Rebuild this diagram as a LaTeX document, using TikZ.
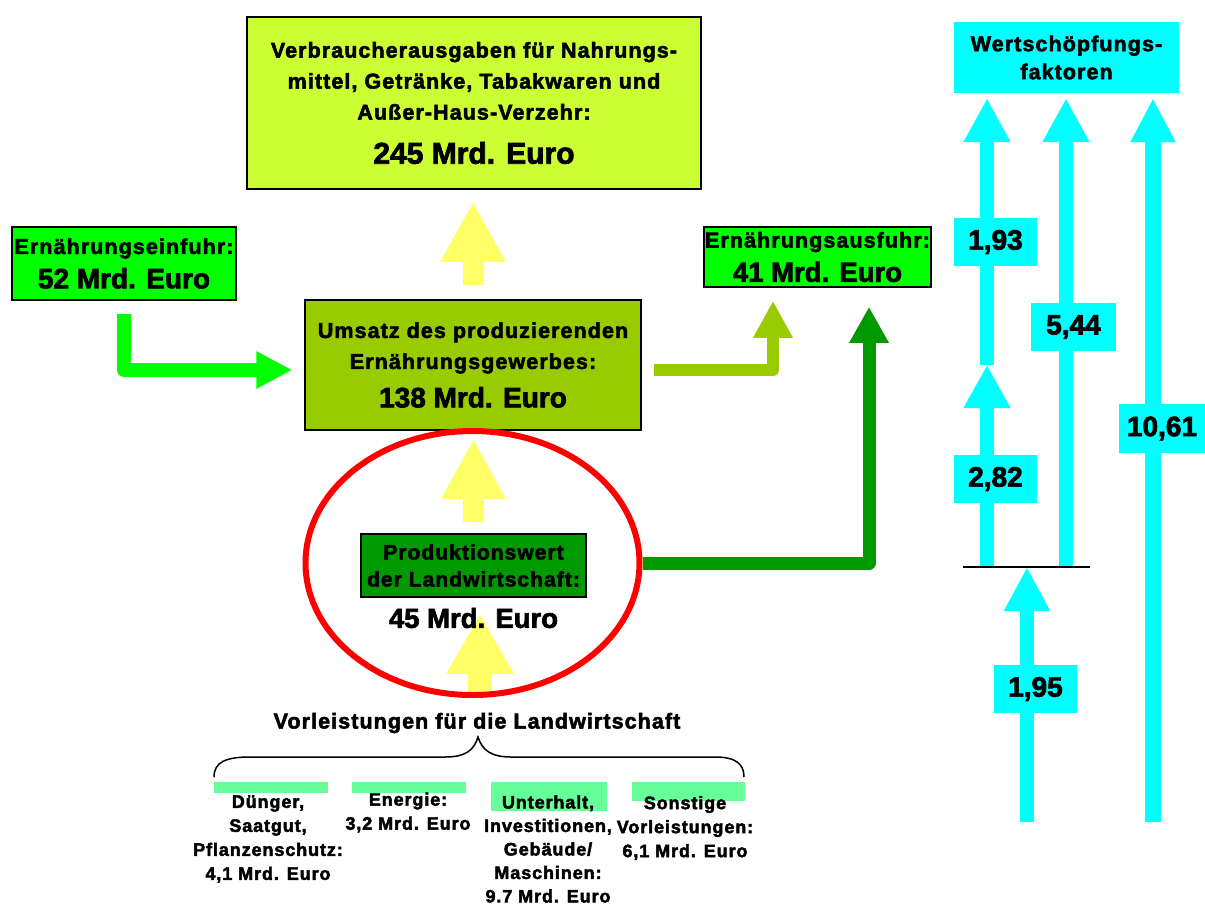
\documentclass[tikz,border=0pt]{standalone}
\usepackage{fontspec}
\setmainfont{Liberation Sans}[LetterSpace=5, BoldFeatures={FakeBold=2.5}]
\newfontfamily\numfont{Liberation Sans}[BoldFeatures={FakeBold=2.5}]
\usetikzlibrary{arrows.meta,shapes.geometric,calc}
\pgfdeclarelayer{bg}
\pgfsetlayers{bg,main}
\definecolor{consc}{HTML}{CCFF33}
\definecolor{umsc}{HTML}{99CC00}
\definecolor{tradec}{HTML}{00FF00}
\definecolor{prodc}{HTML}{009900}
\definecolor{yelc}{HTML}{FFFF66}
\definecolor{cyanc}{HTML}{00FFFF}
\definecolor{barc}{HTML}{66FF99}
\tikzset{
  box/.style={draw=black, line width=1.5pt, inner sep=0pt, align=center},
  body/.style={font=\fontsize{21.5}{31}\selectfont\bfseries},
  small/.style={font=\fontsize{18}{24}\selectfont\bfseries, align=center, inner sep=0pt},
  cbox/.style={fill=cyanc, inner sep=0pt, align=center, font=\numfont\fontsize{28}{30}\selectfont\bfseries},
  bar/.style={fill=barc, inner sep=0pt},
  fat/.style n args={3}{line width=#1, -{Triangle[width=#2,length=#3]}},
}
\begin{document}
\begin{tikzpicture}[x=1pt,y=-1pt]
\useasboundingbox (0,0) rectangle (1205,906);
% boxes
\node[box, body, fill=consc, minimum width=454pt, minimum height=172pt] (cons) at (474,103)
  {Verbraucherausgaben für Nahrungs-\\mittel, Getränke, Tabakwaren und\\Außer-Haus-Verzehr:\\[13.1pt]\numfont\fontsize{30}{34}\selectfont 245 Mrd. Euro};
\node[box, body, fill=tradec, minimum width=224pt, minimum height=73pt] (imp) at (124,263.5)
  {Ernährungseinfuhr:\\[3.4pt]\numfont\fontsize{28}{30}\selectfont 52 Mrd. Euro};
\node[box, body, fill=tradec, minimum width=227pt, minimum height=60pt] (exp) at (817.5,257)
  {Ernährungsausfuhr:\\[3.2pt]\numfont\fontsize{27.5}{30}\selectfont 41 Mrd. Euro};
\node[box, body, fill=umsc, minimum width=336pt, minimum height=130pt] (ums) at (473,365)
  {Umsatz des produzierenden\\Ernährungsgewerbes:\\[7.4pt]\numfont\fontsize{28}{30}\selectfont 138 Mrd. Euro};
\node[box, fill=prodc, minimum width=225pt, minimum height=63pt, font=\fontsize{21}{27}\selectfont\bfseries] (prod) at (473.5,565.5)
  {Produktionswert\\der Landwirtschaft:};
\node[inner sep=0pt, font=\numfont\fontsize{27.5}{30}\selectfont\bfseries] (prodv) at (473.5,618) {45 Mrd. Euro};
\node[ellipse, draw=red, line width=6pt, minimum width=334pt, minimum height=264pt, inner sep=0pt] (ell) at (472.5,563) {};
% Vorleistungen
\node[inner sep=0pt, body] (vorl) at (477,723) {Vorleistungen für die Landwirtschaft};
\draw[line width=1.5pt] (214,777) .. controls (214,762) and (226,757) .. (250,757) -- (445,757)
  .. controls (466,757) and (474,750) .. (478,737)
  .. controls (482,750) and (491,757) .. (511,757) -- (715,757)
  .. controls (736,757) and (744,764) .. (744,777);
\node[bar, minimum width=114pt, minimum height=11pt] (b1) at (271,787.5) {};
\node[bar, minimum width=114pt, minimum height=11pt] (b2) at (409,787.5) {};
\node[bar, minimum width=116pt, minimum height=29pt] (b3) at (549,796.5) {};
\node[bar, minimum width=113pt, minimum height=19pt] (b4) at (688.5,791.5) {};
\node[small] (t1) at (268,839) {Dünger,\\Saatgut,\\Pflanzenschutz:\\4,1 Mrd. Euro};
\node[small] (t2) at (408,812.5) {Energie:\\3,2 Mrd. Euro};
\node[small, font=\fontsize{18}{23.5}\selectfont\bfseries] (t3) at (548,849) {Unterhalt,\\Investitionen,\\Gebäude/\\Maschinen:\\9.7 Mrd. Euro};
\node[small] (t4) at (685,828) {Sonstige\\Vorleistungen:\\6,1 Mrd. Euro};
% right side
\node[fill=cyanc, inner sep=0pt, align=center, minimum width=225pt, minimum height=71pt, font=\fontsize{21.5}{28}\selectfont\bfseries] (wsf) at (1066.5,57.5) {Wertschöpfungs-\\faktoren};
\coordinate (c1m) at (987,365);
\coordinate (c1b) at (987,567);
\coordinate (c2b) at (1066,567);
\coordinate (c3b) at (1153,822);
\coordinate (c4b) at (1027,822);
\coordinate (bl1) at (963,567);
\coordinate (bl2) at (1090,567);
\node[cbox, minimum width=83pt, minimum height=48pt] (f193) at (995.5,242) {1,93};
\node[cbox, minimum width=85pt, minimum height=48pt] (f544) at (1073.5,327) {5,44};
\node[cbox, minimum width=86pt, minimum height=49pt] (f1061) at (1162,428.5) {10,61};
\node[cbox, minimum width=83pt, minimum height=48pt] (f282) at (995.5,479) {2,82};
\node[cbox, minimum width=83pt, minimum height=48pt] (f195) at (1035.5,689) {1,95};
\draw[line width=1.5pt] (bl1) -- (bl2);
% arrows (behind)
\begin{pgfonlayer}{bg}
\fill[white] (0,0) rectangle (1205,906);
\draw[yelc, fat={21pt}{61pt}{60pt}, shorten <=14pt, shorten >=12pt] (ums.north) -- (ums.north |- cons.south);
\draw[yelc, fat={21pt}{60pt}{60pt}, shorten <=11pt, shorten >=8pt] (prod.north) -- (prod.north |- ums.south);
\coordinate (yb) at (480,693);
\draw[yelc, fat={24pt}{63pt}{60pt}, shorten >=16pt] (yb) -- (yb |- prod.south);
\draw[tradec, fat={14pt}{35pt}{36pt}, line join=round, shorten <=13pt, shorten >=12pt] (imp) |- ($(ums.west)+(0,5)$);
\draw[umsc, fat={12pt}{37pt}{37pt}, line join=round, shorten <=12pt, shorten >=13pt] ($(ums.east)+(0,5)$) -| ($(exp.south)+(-44.5,0)$);
\draw[prodc, fat={13pt}{37pt}{36pt}, line join=round, shorten >=19pt] (ell.east) -| ($(exp.south)+(51.5,0)$);
\draw[cyanc, fat={14pt}{44pt}{44pt}, shorten >=5pt] (c1m) -- (c1m |- wsf.south);
\draw[cyanc, fat={14pt}{44pt}{43pt}] (c1b) -- (c1m);
\draw[cyanc, fat={14pt}{44pt}{44pt}, shorten >=5pt] (c2b) -- (c2b |- wsf.south);
\draw[cyanc, fat={16pt}{42pt}{44pt}, shorten >=5pt] (c3b) -- (c3b |- wsf.south);
\draw[cyanc, fat={14pt}{43pt}{44pt}] (c4b) -- (c4b |- bl1);
\end{pgfonlayer}
\end{tikzpicture}
\end{document}
